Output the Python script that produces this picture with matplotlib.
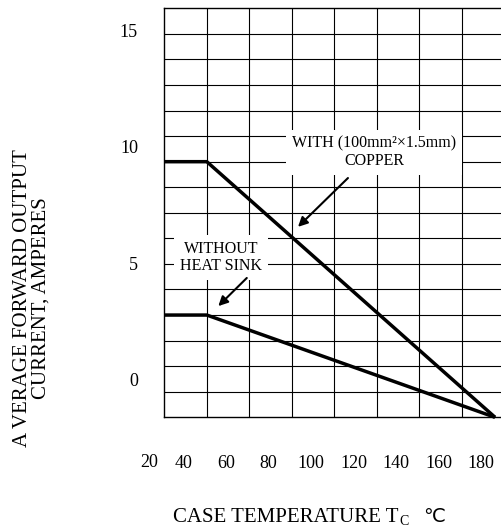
import matplotlib
matplotlib.use("Agg")
import matplotlib.pyplot as plt

plt.rcParams['font.family'] = ['Liberation Serif', 'DejaVu Sans']

# derating curves (case temperature in deg C, current on the grid scale)
temp_copper = [31, 51, 186.6]
amps_copper = [10, 10, 0]
temp_no_sink = [31, 51, 186.6]
amps_no_sink = [4, 4, 0]

x_ticks = [40, 60, 80, 100, 120, 140, 160, 180]
y_tick_labels = ['0', '5', '10', '15']
y_tick_pos = [1.46, 6.0, 10.58, 15.15]   # labels sit off the grid in the original

W, H = 501, 529


def fig_xy(px, py):
    return px / W, 1 - py / H


fig = plt.figure(figsize=(W / 100, H / 100), dpi=100)
ax = fig.add_axes([164.3 / W, 1 - 417.3 / H, 1 - 164.3 / W, (417.3 - 8.3) / H])
ax.set_xlim(31, 189.4)
ax.set_ylim(0, 16)

# grid
for k in range(1, 16):
    ax.axhline(k, color='black', lw=0.8, zorder=1)
for k in range(1, 8):
    ax.axvline(31 + 20 * k, color='black', lw=0.8, zorder=1)
for side in ['left', 'bottom', 'top']:
    ax.spines[side].set_linewidth(1.0)
ax.spines['right'].set_visible(False)

ax.plot(temp_copper, amps_copper, color='black', lw=2.5, zorder=3, clip_on=False,
        solid_capstyle='butt')
ax.plot(temp_no_sink, amps_no_sink, color='black', lw=2.5, zorder=3, clip_on=False,
        solid_capstyle='butt')

# ticks
ax.set_xticks(x_ticks, [str(t) for t in x_ticks])
ax.set_yticks(y_tick_pos, y_tick_labels)
ax.tick_params(axis='x', length=0, pad=27, labelsize=13)
ax.tick_params(axis='y', length=0, pad=19, labelsize=13)
ax.text(23.8, -0.1105, '20', transform=ax.get_xaxis_transform(), ha='center',
        va='center', fontsize=13)

# annotations
box = dict(boxstyle='square,pad=0.35', fc='white', ec='none')
ax.text(129.7, 10.36, 'WITH (100mm²×1.5mm)\nCOPPER', ha='center', va='center',
        fontsize=11.5, linespacing=1.1, bbox=box, zorder=2)
ax.annotate('', xy=(93.9, 7.45), xytext=(117.4, 9.36),
            arrowprops=dict(arrowstyle='-|>', color='black', lw=1.5,
                            mutation_scale=14, shrinkA=0, shrinkB=0), zorder=4)
ax.text(57.7, 6.25, 'WITHOUT\nHEAT SINK', ha='center', va='center',
        fontsize=11.5, linespacing=1.1, bbox=box, zorder=2)
ax.annotate('', xy=(56.4, 4.35), xytext=(69.8, 5.45),
            arrowprops=dict(arrowstyle='-|>', color='black', lw=1.5,
                            mutation_scale=14, shrinkA=0, shrinkB=0), zorder=4)

# axis titles
x, y = fig_xy(32, 298)
fig.text(x, y, 'A VERAGE FORWARD OUTPUT\nCURRENT, AMPERES', rotation=90,
         ha='center', va='center', fontsize=15, linespacing=0.95,
         multialignment='center')
x, y = fig_xy(173, 522)
fig.text(x, y, 'CASE TEMPERATURE T', ha='left', va='baseline', fontsize=15)
x, y = fig_xy(399, 525)
fig.text(x, y, 'C', ha='left', va='baseline', fontsize=10)
x, y = fig_xy(423, 522)
fig.text(x, y, '℃', ha='left', va='baseline', fontsize=14, family='DejaVu Sans')

fig.savefig('out.png', dpi=100)
